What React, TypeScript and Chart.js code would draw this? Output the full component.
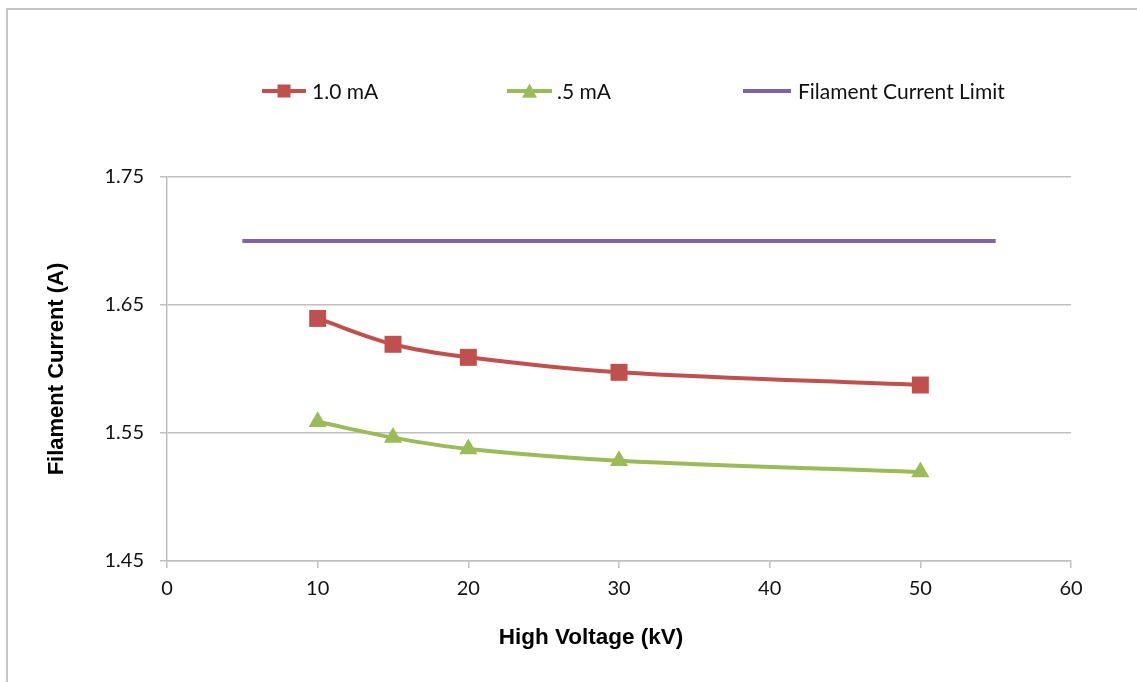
import React, { useEffect, useRef } from "react";
import { Chart, registerables } from "chart.js";

Chart.register(...registerables);

// ---- data ----
const voltagesKV = [10, 15, 20, 30, 50];
const current1mA = [1.6395, 1.6193, 1.6091, 1.5974, 1.5875];
const current05mA = [1.5588, 1.5464, 1.5375, 1.5284, 1.5195];
const limitVoltagesKV = [5, 55];
const limitCurrentA = [1.7, 1.7];
const xTickValues = [0, 10, 20, 30, 40, 50, 60];
const yTickValues = [1.45, 1.55, 1.65, 1.75];
const seriesLabels = ["1.0 mA", ".5 mA", "Filament Current Limit"];
const xAxisTitle = "High Voltage (kV)";
const yAxisTitle = "Filament Current (A)";

const RED = "#C0504D";
const GREEN = "#9BBB59";
const PURPLE = "#8064A2";
const GRID = "#bfbfbf";
const TICK_FONT = "Lato";
const TITLE_FONT = "'Liberation Sans', Arial, sans-serif";
const TEXT = "#111";

function drawMarker(ctx: CanvasRenderingContext2D, style: string, x: number, y: number, size: number, color: string) {
  ctx.fillStyle = color;
  if (style === "rect") {
    ctx.fillRect(x - size / 2, y - size / 2, size, size);
  } else if (style === "triangle") {
    const h = size * 0.9;
    ctx.beginPath();
    ctx.moveTo(x, y - h / 2 - 1);
    ctx.lineTo(x + size / 2, y + h / 2);
    ctx.lineTo(x - size / 2, y + h / 2);
    ctx.closePath();
    ctx.fill();
  }
}

const excelDecor = {
  id: "excelDecor",
  afterDraw(chart: any) {
    const ctx: CanvasRenderingContext2D = chart.ctx;
    const items = [
      { ds: 0, x0: 262, x1: 306, tx: 312 },
      { ds: 1, x0: 507, x1: 552, tx: 557 },
      { ds: 2, x0: 743, x1: 791, tx: 798 },
    ];
    const ly = 91;
    ctx.save();
    items.forEach((it) => {
      const ds = chart.data.datasets[it.ds];
      ctx.strokeStyle = ds.borderColor;
      ctx.lineWidth = 4;
      ctx.beginPath();
      ctx.moveTo(it.x0, ly);
      ctx.lineTo(it.x1, ly);
      ctx.stroke();
      if (ds.pointRadius > 0) {
        drawMarker(ctx, ds.pointStyle, (it.x0 + it.x1) / 2, ly, ds.pointStyle === "rect" ? 13 : 15, ds.borderColor);
      }
      ctx.fillStyle = TEXT;
      ctx.font = `21px ${TICK_FONT}`;
      ctx.textAlign = "left";
      ctx.textBaseline = "middle";
      ctx.fillText(ds.label, it.tx, ly + 1);
    });
    // x axis title
    ctx.fillStyle = "#000";
    ctx.font = `bold 22.5px ${TITLE_FONT}`;
    ctx.textAlign = "center";
    ctx.textBaseline = "middle";
    ctx.fillText(xAxisTitle, 591, 638);
    ctx.restore();
  },
};

export default function App() {
  const canvasRef = useRef<HTMLCanvasElement | null>(null);

  useEffect(() => {
    const canvas = canvasRef.current;
    if (!canvas) return;
    const chart = new Chart(canvas, {
      type: "line",
      data: {
        datasets: [
          {
            label: seriesLabels[0],
            data: voltagesKV.map((v, i) => ({ x: v, y: current1mA[i] })),
            borderColor: RED,
            backgroundColor: RED,
            borderWidth: 4,
            pointStyle: "rect",
            pointRadius: 12,
            pointBorderWidth: 0,
            pointBackgroundColor: RED,
            tension: 0.35,
          },
          {
            label: seriesLabels[1],
            data: voltagesKV.map((v, i) => ({ x: v, y: current05mA[i] })),
            borderColor: GREEN,
            backgroundColor: GREEN,
            borderWidth: 4,
            pointStyle: "triangle",
            pointRadius: 10.5,
            pointBorderWidth: 0,
            pointBackgroundColor: GREEN,
            tension: 0.35,
          },
          {
            label: seriesLabels[2],
            data: limitVoltagesKV.map((v, i) => ({ x: v, y: limitCurrentA[i] })),
            borderColor: PURPLE,
            backgroundColor: PURPLE,
            borderWidth: 4,
            pointRadius: 0,
            tension: 0,
          },
        ],
      },
      options: {
        responsive: false,
        animation: false,
        devicePixelRatio: 1,
        layout: { padding: { left: 0, right: 66, top: 177, bottom: 0 } },
        plugins: {
          legend: { display: false },
          tooltip: { enabled: false },
        },
        scales: {
          x: {
            type: "linear",
            min: 0,
            max: 60,
            afterBuildTicks: (scale: any) => {
              scale.ticks = xTickValues.map((v) => ({ value: v }));
            },
            afterFit: (scale: any) => {
              scale.height = 121;
            },
            ticks: {
              callback: (v: any) => String(v),
              font: { family: TICK_FONT, size: 20 },
              color: TEXT,
              padding: 9,
              maxRotation: 0,
            },
            grid: {
              drawOnChartArea: false,
              drawTicks: true,
              tickLength: 7,
              color: GRID,
              lineWidth: 1.5,
            },
            border: { display: true, color: GRID, width: 1.5 },
            title: { display: false },
          },
          y: {
            type: "linear",
            min: 1.45,
            max: 1.75,
            afterBuildTicks: (scale: any) => {
              scale.ticks = yTickValues.map((v) => ({ value: v }));
            },
            afterFit: (scale: any) => {
              scale.width = 167;
            },
            ticks: {
              callback: (v: any) => Number(v).toFixed(2),
              font: { family: TICK_FONT, size: 20 },
              color: TEXT,
              padding: 16,
            },
            grid: {
              drawOnChartArea: true,
              drawTicks: true,
              tickLength: 7,
              color: GRID,
              lineWidth: 1.5,
            },
            border: { display: true, color: GRID, width: 1.5 },
            title: {
              display: true,
              text: yAxisTitle,
              color: "#000",
              font: { family: TITLE_FONT, size: 22, weight: "bold" },
              padding: { top: 44, bottom: 0 },
            },
          },
        },
      },
      plugins: [excelDecor],
    } as any);
    return () => chart.destroy();
  }, []);

  return (
    <div
      style={{
        position: "absolute",
        left: 0,
        top: 0,
        width: 1137,
        height: 682,
        overflow: "hidden",
        background: "#fff",
      }}
    >
      <div
        style={{
          position: "absolute",
          left: 6,
          top: 8,
          width: 1300,
          height: 900,
          borderTop: "2px solid #c4c4c4",
          borderLeft: "2px solid #c4c4c4",
        }}
      />
      <canvas
        ref={canvasRef}
        width={1137}
        height={682}
        style={{ position: "absolute", left: 0, top: 0, width: 1137, height: 682 }}
      />
    </div>
  );
}
